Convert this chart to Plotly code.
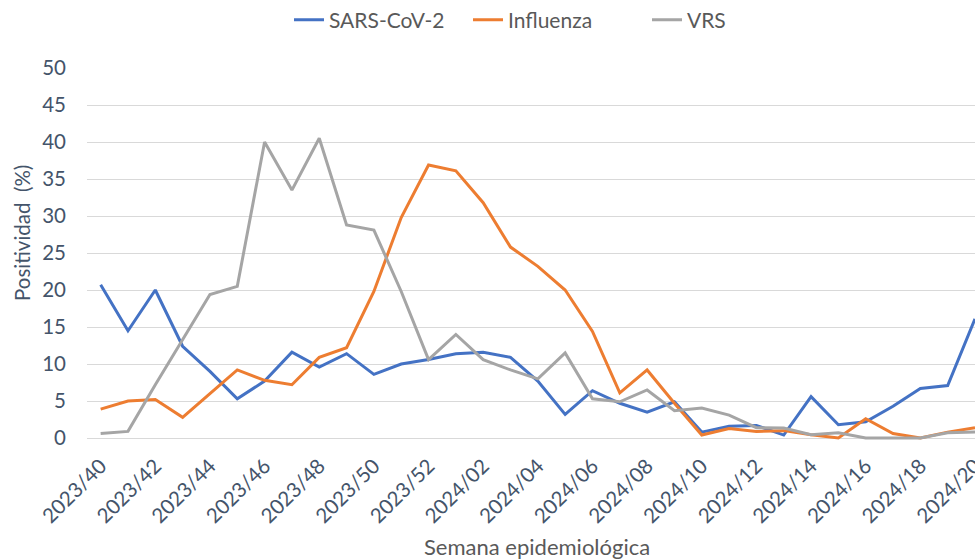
import plotly.graph_objects as go

weeks = [f"2023/{w}" for w in range(40, 53)] + [f"2024/{w:02d}" for w in range(1, 21)]
tick_weeks = weeks[::2]

sars = [20.7, 14.5, 20.0, 12.4, 9.0, 5.3, 7.7, 11.6, 9.6, 11.4, 8.6,
        10.0, 10.6, 11.4, 11.6, 10.9, 7.7, 3.2, 6.4, 4.7, 3.5, 4.9,
        0.8, 1.6, 1.7, 0.4, 5.6, 1.8, 2.2, 4.3, 6.7, 7.1, 16.1]
influenza = [3.9, 5.0, 5.2, 2.8, 6.0, 9.2, 7.8, 7.2, 10.9, 12.2, 19.8,
             29.8, 36.9, 36.1, 31.8, 25.8, 23.2, 20.0, 14.4, 6.1, 9.2, 4.7,
             0.4, 1.3, 0.9, 1.0, 0.45, 0.0, 2.6, 0.6, 0.0, 0.8, 1.4]
vrs = [0.6, 0.9, 7.2, 13.3, 19.4, 20.5, 40.0, 33.5, 40.5, 28.8, 28.1,
       19.8, 10.6, 14.0, 10.6, 9.2, 8.0, 11.5, 5.3, 4.9, 6.5, 3.7,
       4.05, 3.1, 1.4, 1.35, 0.45, 0.7, 0.0, 0.0, 0.0, 0.7, 0.8]

series = [("SARS-CoV-2", sars, "#4472C4"),
          ("Influenza", influenza, "#ED7D31"),
          ("VRS", vrs, "#A5A5A5")]

FONT = "Lato, Carlito, Calibri, sans-serif"
TXT = "#44546A"
GRAYTXT = "#595959"
FS = 20.5

fig = go.Figure()
for name, vals, col in series:
    fig.add_trace(go.Scatter(x=weeks, y=vals, name=name, mode="lines",
                             line=dict(color=col, width=3)))

L, T, B = 87, 68, 119
W, H = 975, 560
ph = H - T - B
pw = W - L

fig.update_layout(
    width=W, height=H,
    margin=dict(l=L, r=0, t=T, b=B, autoexpand=False),
    paper_bgcolor="white", plot_bgcolor="white",
    font=dict(family=FONT, color=TXT, size=FS),
    showlegend=True,
    legend=dict(orientation="h", xref="container", yref="container",
                x=289 / W, xanchor="left",
                y=1 - 20 / H, yanchor="middle",
                entrywidth=134, entrywidthmode="pixels",
                font=dict(size=21, color=GRAYTXT), itemwidth=30,
                bgcolor="rgba(0,0,0,0)"),
    xaxis=dict(type="category", range=[-0.5, 32], tickmode="array",
               tickvals=tick_weeks, ticktext=tick_weeks, tickangle=-45,
               showgrid=False, zeroline=False, showline=False, ticks="",
               automargin=False, ticklabelstandoff=8,
               tickfont=dict(size=FS, color=TXT)),
    yaxis=dict(range=[-0.4, 50], tickmode="array",
               tickvals=[0, 5, 10, 15, 20, 25, 30, 35, 40, 45, 50],
               showgrid=True, gridcolor="#D9D9D9", gridwidth=1.3,
               zeroline=True, zerolinecolor="#D9D9D9", zerolinewidth=1.3,
               showline=False, ticks="", ticklabelstandoff=20,
               automargin=False,
               tickfont=dict(size=FS, color=TXT)),
    annotations=[
        dict(text="Positividad  (%)", textangle=-90, xref="paper", yref="paper",
             x=(22 - L) / pw, y=(H - B - 233) / ph, xanchor="center", yanchor="middle",
             showarrow=False, font=dict(size=FS, color=TXT)),
        dict(text="Semana epidemiológica", xref="paper", yref="paper",
             x=(537 - L) / pw, y=(H - B - 546) / ph, xanchor="center", yanchor="middle",
             showarrow=False, font=dict(size=22, color=GRAYTXT)),
    ],
)

fig.write_html("out.html", config={"displayModeBar": False},
               post_script="document.body.style.margin='0';document.body.style.overflow='hidden';")
